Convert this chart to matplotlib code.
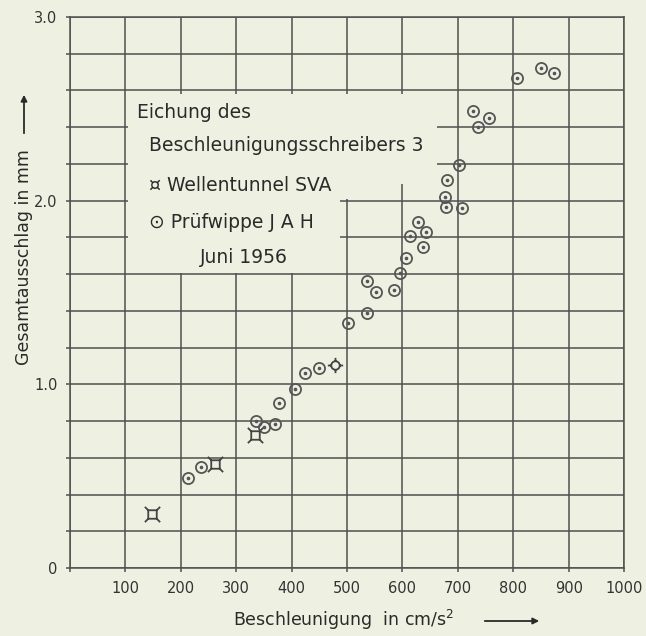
import numpy as np
from matplotlib import pyplot as plt
from matplotlib.path import Path
from matplotlib.patches import Polygon

# Wellentunnel SVA
sva_x = [148, 261, 334]
sva_y = [0.294, 0.568, 0.726]

# point with cross ticks
spec_x = [478]
spec_y = [1.104]

# Pruefwippe JAH
jah_x = [213, 236, 336, 351, 370, 377, 406, 425, 450, 501, 536, 536, 553, 584,
         596, 607, 613, 628, 642, 637, 677, 680, 679, 708, 702, 727, 756, 737,
         806, 850, 873]
jah_y = [0.49, 0.55, 0.80, 0.77, 0.785, 0.90, 0.975, 1.06, 1.088, 1.335, 1.39,
         1.56, 1.50, 1.515, 1.605, 1.69, 1.81, 1.885, 1.83, 1.75, 2.02, 2.11,
         1.965, 1.96, 2.195, 2.49, 2.45, 2.40, 2.67, 2.72, 2.695]

x_ticks = list(range(0, 1001, 100))
x_labels = [''] + [str(v) for v in x_ticks[1:]]
y_ticks = [round(0.2 * i, 1) for i in range(16)]
y_labels = {0.0: '0', 1.0: '1.0', 2.0: '2.0', 3.0: '3.0'}

paper = '#eef0e1'
ink = '#333333'
grid_col = '#505050'

# custom markers
sq = [(-0.5, -0.5), (0.5, -0.5), (0.5, 0.5), (-0.5, 0.5), (-0.5, -0.5)]
verts = sq[:]
codes = [Path.MOVETO] + [Path.LINETO] * 4
for cx, cy in [(-0.5, -0.5), (0.5, -0.5), (0.5, 0.5), (-0.5, 0.5)]:
    verts += [(cx, cy), (cx * 1.8, cy * 1.8)]
    codes += [Path.MOVETO, Path.LINETO]
sva_marker = Path(verts, codes)

circ = Path.unit_circle()
ticks_v = []
ticks_c = []
for dx, dy in [(1, 0), (-1, 0), (0, 1), (0, -1)]:
    ticks_v += [(dx, dy), (dx * 1.8, dy * 1.8)]
    ticks_c += [Path.MOVETO, Path.LINETO]
spec_marker = Path.make_compound_path(circ, Path(ticks_v, ticks_c))

plt.rcParams['font.family'] = 'DejaVu Sans'
fig = plt.figure(figsize=(6.46, 6.36), dpi=100, facecolor=paper)
ax = fig.add_axes([0.1084, 0.1069, 0.8576, 0.8664])
ax.set_facecolor(paper)
ax.set_xlim(0, 1000)
ax.set_ylim(0, 3.0)
ax.set_xticks(x_ticks)
ax.set_xticklabels(x_labels)
ax.set_yticks(y_ticks)
ax.set_yticklabels([y_labels.get(v, '') for v in y_ticks])
ax.tick_params(length=3, width=1.1, color=grid_col, labelcolor=ink,
               labelsize=10.5, pad=6)
ax.grid(True, color=grid_col, linewidth=1.1)
ax.set_axisbelow(True)
for s in ax.spines.values():
    s.set_color(grid_col)
    s.set_linewidth(1.1)

# blank area behind the key text
blank = [(105, 1.605), (105, 2.58), (662, 2.58), (662, 2.09), (505, 2.09),
         (505, 2.01), (487, 2.01), (487, 1.605)]
ax.add_patch(Polygon(blank, closed=True, facecolor=paper, edgecolor='none', zorder=1))

ax.plot(jah_x, jah_y, 'o', markersize=8, markerfacecolor='none',
        markeredgecolor='#555555', markeredgewidth=1.3, zorder=3)
ax.plot(jah_x, jah_y, 'o', markersize=1.6, color='#555555', zorder=3)
ax.plot(sva_x, sva_y, linestyle='none', marker=sva_marker, markersize=11,
        markerfacecolor='none', markeredgecolor='#444444', markeredgewidth=1.3, zorder=3)
ax.plot(spec_x, spec_y, linestyle='none', marker=spec_marker, markersize=11,
        markerfacecolor=paper, markeredgecolor='#444444', markeredgewidth=1.3, zorder=3)

tkw = dict(fontsize=13.5, color='#2a2a2a', va='center', zorder=4)
ax.text(120, 2.48, 'Eichung des', **tkw)
ax.text(143, 2.30, 'Beschleunigungsschreibers 3', **tkw)
ax.text(143, 2.085, '¤ Wellentunnel SVA', **tkw)
ax.text(143, 1.88, '⊙ Prüfwippe J A H', **tkw)
ax.text(234, 1.69, 'Juni 1956', **tkw)

# axis titles with arrows
fig.text(344 / 646, 1 - 620 / 636, 'Beschleunigung  in cm/s$^2$', ha='center',
         va='center', fontsize=12.5, color='#2a2a2a')
fig.text(24 / 646, 1 - 257 / 636, 'Gesamtausschlag in mm', ha='center',
         va='center', rotation=90, fontsize=12.5, color='#2a2a2a')
ax.annotate('', xy=(542 / 646, 1 - 621 / 636), xytext=(482 / 646, 1 - 621 / 636),
            xycoords='figure fraction', textcoords='figure fraction',
            arrowprops=dict(arrowstyle='-|>', color='#2a2a2a', lw=1.3,
                            mutation_scale=9))
ax.annotate('', xy=(24 / 646, 1 - 92 / 636), xytext=(24 / 646, 1 - 136 / 636),
            xycoords='figure fraction', textcoords='figure fraction',
            arrowprops=dict(arrowstyle='-|>', color='#2a2a2a', lw=1.3,
                            mutation_scale=9))

plt.savefig('out.png', dpi=100, facecolor=paper)
